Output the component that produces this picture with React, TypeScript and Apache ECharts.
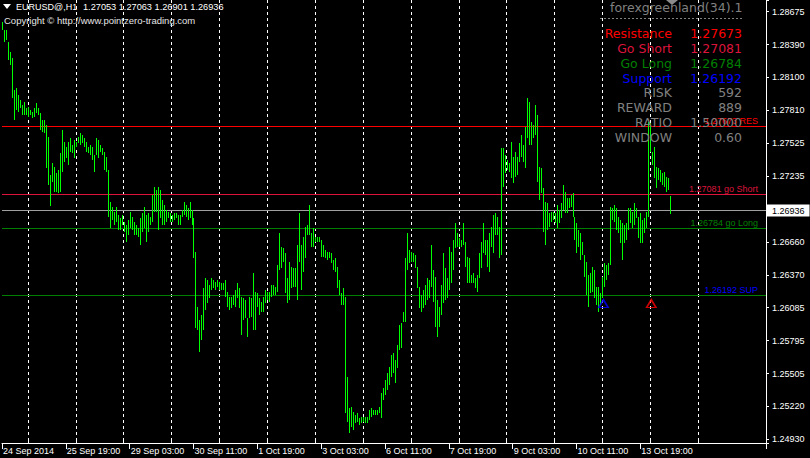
import React, { useEffect, useRef } from 'react';
import * as echarts from 'echarts';

// ---------- data ----------
const SYMBOL = 'EURUSD@,H1';
const LAST_OHLC = ['1.27053', '1.27063', '1.26901', '1.26936'];
const COPYRIGHT = 'Copyright \u00A9 http://www.pointzero-trading.com';

const HIGH = [
  1.28588, 1.28515, 1.28515, 1.28412, 1.28325, 1.28266, 1.27989, 1.28004, 1.27945, 1.27901,
  1.27858, 1.27887, 1.27828, 1.27843, 1.27814, 1.27799, 1.27828, 1.27872, 1.27828, 1.27785,
  1.27726, 1.27726, 1.27682, 1.27580, 1.27244, 1.27347, 1.27317, 1.27259, 1.27288, 1.27434,
  1.27639, 1.27536, 1.27493, 1.27536, 1.27566, 1.27507, 1.27551, 1.27536, 1.27580, 1.27609,
  1.27595, 1.27566, 1.27536, 1.27493, 1.27507, 1.27493, 1.27420, 1.27566, 1.27551, 1.27507,
  1.27478, 1.27449, 1.27405, 1.27288, 1.27011, 1.26967, 1.26923, 1.26967, 1.26894, 1.26865,
  1.26894, 1.26836, 1.26806, 1.26850, 1.26923, 1.26879, 1.26836, 1.26806, 1.26777, 1.26865,
  1.26909, 1.26967, 1.26894, 1.26909, 1.26879, 1.27069, 1.27142, 1.27113, 1.27142, 1.27113,
  1.27025, 1.26982, 1.26938, 1.26923, 1.26909, 1.26894, 1.26909, 1.26909, 1.26894, 1.26894,
  1.26938, 1.27011, 1.26982, 1.26952, 1.27011, 1.26938, 1.26865, 1.26573, 1.26091, 1.25974,
  1.26018, 1.26252, 1.26339, 1.26325, 1.26281, 1.26339, 1.26325, 1.26310, 1.26325, 1.26310,
  1.26295, 1.26295, 1.26325, 1.26222, 1.26179, 1.26179, 1.26193, 1.26237, 1.26295, 1.26252,
  1.26179, 1.26164, 1.26149, 1.25989, 1.26179, 1.26164, 1.26383, 1.26222, 1.26208, 1.26164,
  1.26135, 1.26179, 1.26237, 1.26222, 1.26222, 1.26281, 1.26281, 1.26266, 1.26456, 1.26733,
  1.26617, 1.26602, 1.26558, 1.26339, 1.26485, 1.26441, 1.26427, 1.26427, 1.26631, 1.26909,
  1.26631, 1.26704, 1.26792, 1.26806, 1.26982, 1.26733, 1.26777, 1.26704, 1.26704, 1.26704,
  1.26675, 1.26631, 1.26587, 1.26573, 1.26573, 1.26558, 1.26500, 1.26514, 1.26442, 1.26325,
  1.26208, 1.26252, 1.26179, 1.25478, 1.25201, 1.25216, 1.25172, 1.25143, 1.25157, 1.25113,
  1.25128, 1.25128, 1.25128, 1.25128, 1.25186, 1.25201, 1.25186, 1.25186, 1.25186, 1.25216,
  1.25332, 1.25376, 1.25449, 1.25508, 1.25566, 1.25668, 1.25683, 1.25624, 1.25756, 1.25931,
  1.25946, 1.26048, 1.26515, 1.26734, 1.26588, 1.26573, 1.26559, 1.26544, 1.26442, 1.26267,
  1.26194, 1.26238, 1.26281, 1.26340, 1.26325, 1.26632, 1.26413, 1.26354, 1.26150, 1.26092,
  1.26281, 1.26559, 1.26427, 1.26340, 1.26617, 1.26573, 1.26676, 1.26822, 1.26734, 1.26690,
  1.26676, 1.26822, 1.26661, 1.26530, 1.26515, 1.26369, 1.26384, 1.26340, 1.26369, 1.26559,
  1.26661, 1.26822, 1.26676, 1.26676, 1.26734, 1.26792, 1.26895, 1.26909, 1.26880, 1.26792,
  1.27478, 1.27478, 1.27420, 1.27376, 1.27347, 1.27536, 1.27405, 1.27449, 1.27405, 1.27522,
  1.27595, 1.27507, 1.27668, 1.27916, 1.27887, 1.27712, 1.27682, 1.27858, 1.27770, 1.27317,
  1.27303, 1.27128, 1.27011, 1.26996, 1.26909, 1.26923, 1.26923, 1.26909, 1.26982, 1.26938,
  1.26996, 1.27157, 1.27098, 1.27040, 1.27040, 1.27069, 1.27084, 1.26879, 1.26821, 1.26763,
  1.26733, 1.26660, 1.26544, 1.26485, 1.26368, 1.26383, 1.26441, 1.26412, 1.26266, 1.26266,
  1.26208, 1.26354, 1.26471, 1.26456, 1.26471, 1.26967, 1.26952, 1.26982, 1.26952, 1.26879,
  1.26850, 1.26821, 1.26806, 1.26821, 1.26952, 1.26952, 1.26923, 1.26996, 1.26952, 1.26879,
  1.26909, 1.26850, 1.26865, 1.26923, 1.27712, 1.27697, 1.27449, 1.27493, 1.27317, 1.27303,
  1.27288, 1.27259, 1.27274, 1.27230, 1.27215, 1.27063,
];

const LOW = [
  1.28515, 1.28412, 1.28427, 1.28252, 1.28208, 1.27916, 1.27726, 1.27814, 1.27799, 1.27828,
  1.27770, 1.27770, 1.27770, 1.27755, 1.27770, 1.27741, 1.27755, 1.27785, 1.27770, 1.27639,
  1.27624, 1.27609, 1.27303, 1.27157, 1.26976, 1.27186, 1.27098, 1.27098, 1.27084, 1.27098,
  1.27274, 1.27361, 1.27390, 1.27332, 1.27449, 1.27434, 1.27390, 1.27493, 1.27522, 1.27507,
  1.27522, 1.27493, 1.27449, 1.27434, 1.27420, 1.27376, 1.27274, 1.27420, 1.27390, 1.27449,
  1.27420, 1.27288, 1.27274, 1.26879, 1.26777, 1.26850, 1.26806, 1.26836, 1.26763, 1.26763,
  1.26806, 1.26748, 1.26660, 1.26719, 1.26777, 1.26763, 1.26719, 1.26719, 1.26704, 1.26631,
  1.26748, 1.26777, 1.26660, 1.26748, 1.26806, 1.26836, 1.26923, 1.26923, 1.26763, 1.26865,
  1.26806, 1.26806, 1.26836, 1.26865, 1.26836, 1.26836, 1.26850, 1.26865, 1.26806, 1.26806,
  1.26879, 1.26894, 1.26879, 1.26850, 1.26865, 1.26806, 1.26514, 1.25901, 1.25887, 1.25697,
  1.25799, 1.25887, 1.26062, 1.26120, 1.26164, 1.26237, 1.26252, 1.26237, 1.26266, 1.26237,
  1.26237, 1.26237, 1.26179, 1.26091, 1.26062, 1.26076, 1.26106, 1.26091, 1.26164, 1.26076,
  1.25843, 1.25974, 1.25989, 1.25828, 1.25989, 1.26003, 1.25887, 1.25887, 1.26091, 1.26018,
  1.26047, 1.26047, 1.26120, 1.26149, 1.26135, 1.26179, 1.26193, 1.26193, 1.26222, 1.26412,
  1.26427, 1.26485, 1.26208, 1.26120, 1.26149, 1.26252, 1.26266, 1.26266, 1.26149, 1.26485,
  1.26237, 1.26398, 1.26514, 1.26719, 1.26719, 1.26617, 1.26617, 1.26660, 1.26660, 1.26660,
  1.26529, 1.26529, 1.26514, 1.26500, 1.26514, 1.26471, 1.26412, 1.26398, 1.26252, 1.26194,
  1.26106, 1.26106, 1.25157, 1.25084, 1.24982, 1.25040, 1.25011, 1.25070, 1.25084, 1.25055,
  1.25070, 1.25084, 1.25070, 1.25070, 1.25099, 1.25128, 1.25143, 1.25143, 1.25143, 1.25157,
  1.25113, 1.25274, 1.25318, 1.25362, 1.25405, 1.25478, 1.25508, 1.25420, 1.25551, 1.25712,
  1.25727, 1.25960, 1.25960, 1.26413, 1.26471, 1.26486, 1.26486, 1.26427, 1.26252, 1.26077,
  1.26048, 1.26077, 1.26106, 1.26150, 1.26165, 1.26267, 1.26135, 1.25916, 1.25829, 1.25916,
  1.26019, 1.26121, 1.26150, 1.26165, 1.26238, 1.26296, 1.26413, 1.26603, 1.26617, 1.26617,
  1.26617, 1.26632, 1.26442, 1.26296, 1.26296, 1.26296, 1.26296, 1.26252, 1.26223, 1.26340,
  1.26427, 1.26559, 1.26544, 1.26442, 1.26398, 1.26617, 1.26559, 1.26719, 1.26719, 1.26515,
  1.26544, 1.27142, 1.27259, 1.27288, 1.27274, 1.27215, 1.27171, 1.27230, 1.27244, 1.27361,
  1.27405, 1.27361, 1.27303, 1.27566, 1.27507, 1.27507, 1.27566, 1.27595, 1.27186, 1.27025,
  1.27084, 1.26748, 1.26631, 1.26763, 1.26792, 1.26836, 1.26850, 1.26821, 1.26777, 1.26821,
  1.26865, 1.26938, 1.26909, 1.26909, 1.26952, 1.26967, 1.26879, 1.26675, 1.26558, 1.26617,
  1.26500, 1.26544, 1.26354, 1.26193, 1.26091, 1.26208, 1.26222, 1.26164, 1.26106, 1.26047,
  1.26106, 1.26164, 1.26266, 1.26325, 1.26368, 1.26456, 1.26850, 1.26836, 1.26763, 1.26733,
  1.26646, 1.26500, 1.26646, 1.26675, 1.26763, 1.26821, 1.26777, 1.26806, 1.26865, 1.26690,
  1.26646, 1.26646, 1.26733, 1.26777, 1.26879, 1.27449, 1.27332, 1.27215, 1.27128, 1.27201,
  1.27186, 1.27157, 1.27142, 1.27098, 1.27113, 1.26901,
];

const X_LABELS = [
  '24 Sep 2014', '25 Sep 19:00', '29 Sep 03:00', '30 Sep 11:00', '1 Oct 19:00', '3 Oct 03:00',
  '6 Oct 11:00', '7 Oct 19:00', '9 Oct 03:00', '10 Oct 11:00', '13 Oct 19:00',
];
const Y_LABELS = [
  '1.24930', '1.25220', '1.25505', '1.25795', '1.26085', '1.26370', '1.26660',
  '1.26950', '1.27235', '1.27525', '1.27810', '1.28100', '1.28390', '1.28675',
];

const CURRENT_PRICE = 1.26936;
const LEVEL_VALUES = [1.27673, 1.27081, 1.26784, 1.26192];
const LEVEL_TAGS = ['1.27673 RES', '1.27081 go Short', '1.26784 go Long', '1.26192 SUP'];

const PANEL_TITLE = 'forexgreenland(34).1';
const PANEL_LABELS = ['Resistance', 'Go Short', 'Go Long', 'Support', 'RISK', 'REWARD', 'RATIO', 'WINDOW'];
const PANEL_VALUES = ['1.27673', '1.27081', '1.26784', '1.26192', '592', '889', '1.50000', '0.60'];

const BUY_ARROWS = [[301, 1.26124]];
const SELL_ARROWS = [[325, 1.26124]];

// ---------- layout / style ----------
const CHART_W = 810;
const CHART_H = 458;
const SLOTS = 383;
const PLOT_W = 766;
const PLOT_H = 443;
const PRICE_MIN = 1.248976;
const PRICE_MAX = 1.287775;
const TICK_BASE = 1.2493;
const TICK_STEP = 0.0028808;
const BAR_COLOR = '#00ff00';

const LEVEL_LINE_COLORS = ['#ff0000', '#dc143c', '#008000', '#008000'];
const LEVEL_TEXT_COLORS = ['#ff0000', '#dc143c', '#008000', '#0000ff'];
const PANEL_COLORS = ['#ff0000', '#dc143c', '#008000', '#0000ff', '#808080', '#808080', '#808080', '#808080'];

const FONT = '"Liberation Sans", Arial, sans-serif';
const PANEL_FONT = '12.5px "DejaVu Sans", sans-serif';

export default function App() {
  const ref = useRef<HTMLDivElement>(null);

  useEffect(() => {
    if (!ref.current) return;
    const chart = echarts.init(ref.current, undefined, { renderer: 'svg', width: CHART_W, height: CHART_H });

    const cats = Array.from({ length: SLOTS }, (_, i) => String(i));
    const bars = HIGH.map((h, i) => [i, h, LOW[i]]);
    const levelRows = LEVEL_VALUES.map((v, i) => [0, v, i]);
    levelRows.push([0, CURRENT_PRICE, -1]);

    const gridInterval = (i: number) => i >= 13 && i <= 349 && (i - 13) % 24 === 0;
    const labelInterval = (i: number) => i % 32 === 0 && i / 32 < X_LABELS.length;

    const graphics: any[] = [
      { type: 'polygon', z: 100, shape: { points: [[3, 4], [11, 4], [7, 9]] }, style: { fill: '#ffffff' } },
      { type: 'text', z: 100, x: 16, y: 7, style: { text: SYMBOL, fill: '#ffffff', font: `9px ${FONT}`, align: 'left', verticalAlign: 'middle' } },
      { type: 'text', z: 100, x: 83, y: 7, style: { text: LAST_OHLC.join(' '), fill: '#ffffff', font: `9.2px ${FONT}`, align: 'left', verticalAlign: 'middle' } },
      { type: 'text', z: 100, x: 4, y: 20, style: { text: COPYRIGHT, fill: '#e6e6e6', font: `9.5px ${FONT}`, align: 'left', verticalAlign: 'middle' } },
      { type: 'polygon', z: 100, shape: { points: [[666, 0], [678, 0], [672, 5]] }, style: { fill: '#8c8c8c' } },
      { type: 'text', z: 100, x: 610, y: 7.5, style: { text: PANEL_TITLE, fill: '#808080', font: PANEL_FONT, align: 'left', verticalAlign: 'middle' } },
      { type: 'line', z: 100, shape: { x1: 600, y1: 18.5, x2: 743, y2: 18.5 }, style: { stroke: '#808080', lineWidth: 1, lineDash: [2, 2] } },
    ];
    PANEL_LABELS.forEach((lab, i) => {
      const y = 33.3 + i * 14.9;
      graphics.push({ type: 'text', z: 100, x: 672, y, style: { text: lab, fill: PANEL_COLORS[i], font: PANEL_FONT, align: 'right', verticalAlign: 'middle' } });
      graphics.push({ type: 'text', z: 100, x: 742, y, style: { text: PANEL_VALUES[i], fill: PANEL_COLORS[i], font: PANEL_FONT, align: 'right', verticalAlign: 'middle' } });
    });

    const arrowPath = 'path://M6,0 L12,10 L0,10 Z M6,3.5 L2.6,9 L9.4,9 Z';

    chart.setOption({
      animation: false,
      backgroundColor: '#000000',
      textStyle: { fontFamily: FONT },
      grid: { left: 0, top: 0, width: PLOT_W, height: PLOT_H, containLabel: false },
      xAxis: [
        {
          type: 'category',
          data: cats,
          boundaryGap: true,
          position: 'bottom',
          axisLine: { show: true, onZero: false, lineStyle: { color: '#ffffff', width: 1 } },
          axisTick: { show: true, inside: true, length: 3, interval: gridInterval, lineStyle: { color: '#ffffff' } },
          axisLabel: { show: false },
          splitLine: { show: true, interval: gridInterval, lineStyle: { color: '#ffffff', width: 1, type: [3, 3] } },
        },
        {
          type: 'category',
          data: cats,
          boundaryGap: true,
          position: 'bottom',
          axisLine: { show: false, onZero: false },
          axisTick: { show: true, length: 6, interval: labelInterval, lineStyle: { color: '#ffffff' } },
          axisLabel: {
            show: true,
            interval: labelInterval,
            formatter: (_v: string, i: number) => X_LABELS[i / 32] ?? '',
            color: '#ffffff',
            fontSize: 9,
            fontFamily: FONT,
            align: 'left',
            margin: 3,
          },
          splitLine: { show: false },
        },
      ],
      yAxis: [
        { type: 'value', min: PRICE_MIN, max: PRICE_MAX, show: false, splitLine: { show: false } },
        {
          type: 'value',
          position: 'right',
          min: (PRICE_MIN - TICK_BASE) / TICK_STEP,
          max: (PRICE_MAX - TICK_BASE) / TICK_STEP,
          splitNumber: 13,
          minInterval: 1,
          maxInterval: 1,
          axisLine: { show: true, lineStyle: { color: '#ffffff', width: 1 } },
          axisTick: { show: true, length: 3, lineStyle: { color: '#ffffff' } },
          axisLabel: {
            color: '#ffffff',
            fontSize: 9,
            fontFamily: FONT,
            margin: 6,
            formatter: (v: number) => {
              const i = Math.round(v);
              return Math.abs(v - i) < 1e-6 && i >= 0 && i < Y_LABELS.length ? Y_LABELS[i] : '';
            },
          },
          splitLine: { show: false },
        },
      ],
      series: [
        {
          type: 'custom',
          name: 'levels',
          xAxisIndex: 0,
          yAxisIndex: 0,
          data: levelRows,
          encode: { x: 0, y: 1 },
          clip: false,
          silent: true,
          z: 1,
          renderItem: (params: any, api: any) => {
            const cs = params.coordSys;
            const idx = api.value(2);
            const y = Math.round(api.coord([0, api.value(1)])[1]) + 0.5;
            const right = cs.x + cs.width;
            if (idx < 0) {
              return {
                type: 'group',
                children: [
                  { type: 'line', shape: { x1: cs.x, y1: y, x2: right, y2: y }, style: { stroke: '#a0a0a0', lineWidth: 1 } },
                  {
                    type: 'text',
                    x: right + 1,
                    y,
                    z2: 10,
                    style: {
                      text: LAST_OHLC[3],
                      fill: '#000000',
                      font: `9px ${FONT}`,
                      align: 'left',
                      verticalAlign: 'middle',
                      backgroundColor: '#ffffff',
                      padding: [2, 5, 1, 5],
                    },
                  },
                ],
              };
            }
            return {
              type: 'group',
              children: [
                { type: 'line', shape: { x1: cs.x, y1: y, x2: right, y2: y }, style: { stroke: LEVEL_LINE_COLORS[idx], lineWidth: 1 } },
                {
                  type: 'text',
                  x: right - 8,
                  y: y - 1.5,
                  style: {
                    text: LEVEL_TAGS[idx],
                    fill: LEVEL_TEXT_COLORS[idx],
                    font: `9px ${FONT}`,
                    align: 'right',
                    verticalAlign: 'bottom',
                  },
                },
              ],
            };
          },
        },
        {
          type: 'custom',
          name: 'bars',
          xAxisIndex: 0,
          yAxisIndex: 0,
          data: bars,
          encode: { x: 0, y: [1, 2] },
          silent: true,
          z: 2,
          itemStyle: { color: BAR_COLOR },
          renderItem: (_params: any, api: any) => {
            const k = api.value(0);
            const top = api.coord([k, api.value(1)]);
            const bot = api.coord([k, api.value(2)]);
            const x = Math.round(top[0] - 1);
            const y = Math.round(top[1]);
            const h = Math.max(1, Math.round(bot[1]) - y);
            return { type: 'rect', shape: { x, y, width: 1, height: h }, style: { fill: BAR_COLOR, stroke: null } };
          },
        },
        {
          type: 'scatter',
          xAxisIndex: 0,
          yAxisIndex: 0,
          data: BUY_ARROWS,
          symbol: arrowPath,
          symbolSize: [12, 10],
          itemStyle: { color: '#0000ff' },
          z: 5,
          silent: true,
        },
        {
          type: 'scatter',
          xAxisIndex: 0,
          yAxisIndex: 0,
          data: SELL_ARROWS,
          symbol: arrowPath,
          symbolSize: [12, 10],
          itemStyle: { color: '#ff0000' },
          z: 5,
          silent: true,
        },
      ],
      graphic: { elements: graphics },
    });

    return () => chart.dispose();
  }, []);

  return (
    <div
      ref={ref}
      style={{ position: 'fixed', left: 0, top: 0, width: CHART_W, height: CHART_H, background: '#000', overflow: 'hidden' }}
    />
  );
}
